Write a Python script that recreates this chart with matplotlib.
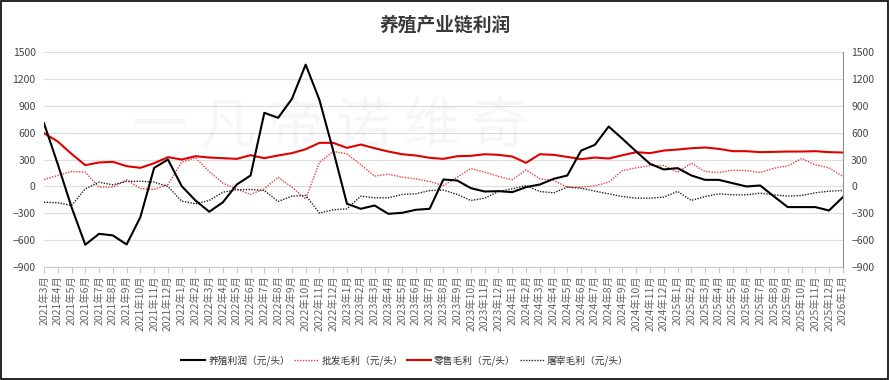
import numpy as np
import matplotlib.pyplot as plt
from matplotlib.patches import Rectangle

plt.rcParams['font.family'] = ['Noto Sans CJK SC', 'DejaVu Sans']

# Data
months = []
for y in range(2021, 2027):
    for m in range(1, 13):
        if (y == 2021 and m < 3) or (y == 2026 and m > 1):
            continue
        months.append(f"{y}年{m}月")

breeding = [706, 250, -230, -650, -528, -546, -647, -342, 208, 301,
            4, -156, -282, -175, 22, 123, 822, 766, 977, 1360,
            966, 400, -193, -249, -212, -305, -294, -260, -249, 78,
            67, -19, -56, -52, -63, -7, 22, 85, 123, 401,
            465, 669, 532, 390, 253, 190, 205, 123, 74, 74,
            37, 0, 11, -111, -230, -230, -230, -268, -119]

wholesale = [78, 123, 167, 160, -7, -7, 74, -22, -33, 22,
             271, 320, 167, 37, -30, -89, -26, 104, -7, -141,
             271, 390, 364, 245, 115, 137, 104, 85, 56, 11,
             104, 200, 160, 112, 74, 186, 85, 67, -7, -7,
             7, 48, 178, 208, 234, 234, 160, 260, 167, 156,
             182, 178, 156, 204, 230, 312, 242, 208, 112]

retail = [595, 502, 364, 238, 268, 275, 227, 208, 260, 327,
          301, 338, 323, 316, 308, 349, 316, 346, 372, 416,
          487, 487, 431, 468, 427, 390, 360, 346, 320, 308,
          338, 342, 360, 353, 334, 264, 360, 353, 330, 305,
          323, 312, 349, 383, 372, 401, 412, 427, 435, 420,
          394, 394, 383, 386, 390, 390, 394, 383, 379]

slaughter = [-175, -182, -212, -26, 48, 19, 56, 59, 48, 0,
             -164, -193, -156, -63, -37, -33, -45, -167, -108, -100,
             -297, -260, -249, -108, -126, -126, -89, -82, -45, -40,
             -89, -156, -130, -56, -26, 11, -56, -71, -7, -19,
             -52, -82, -112, -130, -130, -119, -55, -156, -112, -82,
             -93, -93, -74, -93, -108, -100, -71, -52, -45]

yticks = [-900, -600, -300, 0, 300, 600, 900, 1200, 1500]

# Figure
fig = plt.figure(figsize=(8.9, 3.8), dpi=100)
ax = fig.add_axes([0.0494, 0.297, 0.8976, 0.566])
x = np.arange(len(months))

ax.plot(x, breeding, color="black", lw=1.5, label="养殖利润（元/头）", zorder=5)
ax.plot(x, wholesale, color="#E84040", lw=1.0, ls=(0, (1, 1)), label="批发毛利（元/头）", zorder=3)
ax.plot(x, retail, color="#E00000", lw=1.5, label="零售毛利（元/头）", zorder=4)
ax.plot(x, slaughter, color="#222222", lw=1.0, ls=(0, (1, 1)), label="屠宰毛利（元/头）", zorder=3)

ax.set_xlim(0, len(months) - 1)
ax.set_ylim(-900, 1500)
ax.set_yticks(yticks)
ax.set_xticks(x)
ax.set_xticklabels(months, rotation=90, fontsize=7.5, color="#666666")
ax.tick_params(axis="y", length=0, labelsize=7.5, labelcolor="#444444", pad=6)
ax.tick_params(axis="x", length=4, color="#C8C8C8", pad=2)
ax.grid(axis="y", color="#DDDDDD", lw=0.8)
ax.set_axisbelow(True)
for s in ["top", "left", "right"]:
    ax.spines[s].set_visible(False)
ax.spines["bottom"].set_color("#C8C8C8")

ax2 = ax.twinx()
ax2.set_ylim(-900, 1500)
ax2.set_yticks(yticks)
ax2.tick_params(axis="y", length=0, labelsize=7.5, labelcolor="#444444", pad=6)
for s in ["top", "left", "bottom"]:
    ax2.spines[s].set_visible(False)
ax2.spines["right"].set_color("#909090")

# watermark
fig.text(0.37, 0.665, "一 凡 帝 诺 维 奇", fontsize=40, color="#000000", alpha=0.035,
         ha="center", va="center")

fig.suptitle("养殖产业链利润", y=0.96, fontsize=13.5, fontweight="bold", color="#3A3A3A")

fig.legend(loc="lower center", bbox_to_anchor=(0.455, 0.015), ncol=4, frameon=False,
           fontsize=7, handlelength=2.5, columnspacing=0.4, handletextpad=0.3,
           labelcolor="#333333")

fig.add_artist(Rectangle((0.001, 0.002), 0.997, 0.995, transform=fig.transFigure,
                         fill=False, edgecolor="black", lw=1.2))

fig.savefig("out.png", dpi=100)
